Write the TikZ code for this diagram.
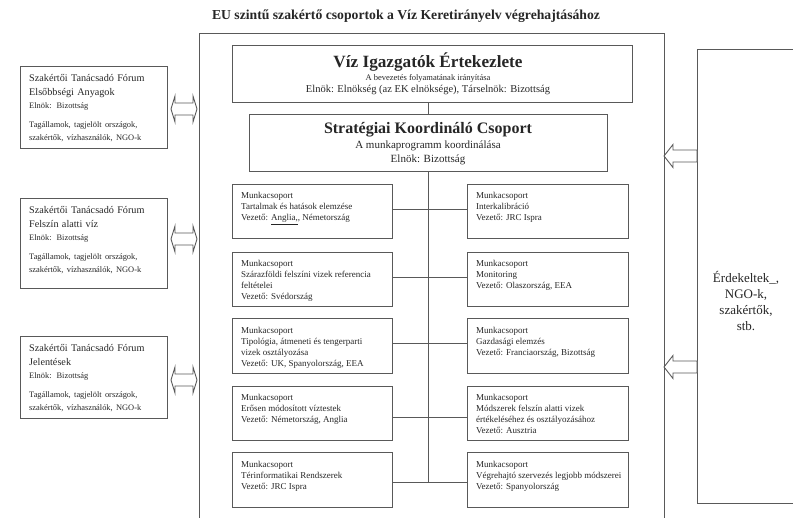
\documentclass[tikz,border=0pt]{standalone}
\usepackage{fontspec}
\setmainfont{Liberation Serif}
\usetikzlibrary{calc}
\newcommand{\fsz}[2]{\fontsize{#1}{#2}\selectfont}
\newcommand{\dblarrow}[2]{%
  \draw[hollow] (#1) -- ++(4,-13) -- ++(0,7) -- ($(#2)+(-4,-6)$) -- ++(0,-7) -- (#2)
    -- ++(-4,13) -- ++(0,-7) -- ($(#1)+(4,6)$) -- ++(0,7) -- cycle;}
\newcommand{\leftarrowshape}[2]{%
  \draw[hollow] (#1) -- ++(9,-11.5) -- ++(0,5.5) -- ($(#2)+(0,-6)$) -- ($(#2)+(0,6)$)
    -- ($(#1)+(9,6)$) -- ++(0,5.5) -- cycle;}
\begin{document}
\begin{tikzpicture}[x=1pt,y=-1pt,
  every node/.style={text=black!85, inner sep=0pt},
  box/.style={draw=black!65, line width=1pt, fill=none},
  wgbox/.style={box, minimum width=160pt, minimum height=54.5pt, anchor=north west},
  fbox/.style={box, minimum width=147pt, anchor=north west},
  wgtext/.style={anchor=north west, align=left, font=\fsz{9}{11}},
  ftext/.style={anchor=north west, text width=140pt, align=left},
  link/.style={draw=black!65, line width=1pt},
  hollow/.style={draw=black!65, line width=0.9pt, fill=white}
]
\useasboundingbox (0,0) rectangle (793,518);
\clip (0,0) rectangle (793,518);

% title
\node[font=\fsz{13.7}{15}\bfseries] (title) at (406,16) {EU szintű szakértő csoportok a Víz Keretirányelv végrehajtásához};

% outer frame
\node[box, minimum width=465pt, minimum height=540pt, anchor=north west] (frame) at (199,33) {};

% top box
\node[box, minimum width=400pt, minimum height=57pt, anchor=north west] (viz) at (232,45) {};
\node[font=\fsz{17.2}{19}\bfseries] (viztitle) at (428,62) {Víz Igazgatók Értekezlete};
\node[font=\fsz{8.5}{10}] (vizsub1) at (428,78) {A bevezetés folyamatának irányítása};
\node[font=\fsz{10.5}{11}] (vizsub2) at (428,89.5) {Elnök: Elnökség (az EK elnöksége), Társelnök: Bizottság};

% strategic box
\node[box, minimum width=358pt, minimum height=57pt, anchor=north west] (strat) at (249,114) {};
\node[font=\fsz{16}{17}\bfseries] (strattitle) at (428,130) {Stratégiai Koordináló Csoport};
\node[font=\fsz{11}{12}] (stratsub1) at (428,145.5) {A munkaprogramm koordinálása};
\node[font=\fsz{11}{12}] (stratsub2) at (428,160) {Elnök: Bizottság};

% working groups, left column
\node[wgbox] (l1) at (232,184) {};
\node[wgbox] (l2) at (232,252) {};
\node[wgbox] (l3) at (232,318.5) {};
\node[wgbox] (l4) at (232,386) {};
\node[wgbox] (l5) at (232,452.5) {};
% right column
\node[wgbox, minimum width=161pt] (r1) at (467,184) {};
\node[wgbox, minimum width=161pt] (r2) at (467,252) {};
\node[wgbox, minimum width=161pt] (r3) at (467,318.5) {};
\node[wgbox, minimum width=161pt] (r4) at (467,386) {};
\node[wgbox, minimum width=161pt] (r5) at (467,452.5) {};

\node[wgtext] (tl1) at ($(l1.north west)+(9,8.5)$) {Munkacsoport\\Tartalmak és hatások elemzése\\Vezető: \underline{Anglia,}, Németország};
\node[wgtext] (tl2) at ($(l2.north west)+(9,8.5)$) {Munkacsoport\\Szárazföldi felszíni vizek referencia\\feltételei\\Vezető: Svédország};
\node[wgtext] (tl3) at ($(l3.north west)+(9,8.5)$) {Munkacsoport\\Tipológia, átmeneti és tengerparti\\vizek osztályozása\\Vezető: UK, Spanyolország, EEA};
\node[wgtext] (tl4) at ($(l4.north west)+(9,8.5)$) {Munkacsoport\\Erősen módosított víztestek\\Vezető: Németország, Anglia};
\node[wgtext] (tl5) at ($(l5.north west)+(9,8.5)$) {Munkacsoport\\Térinformatikai Rendszerek\\Vezető: JRC Ispra};

\node[wgtext] (tr1) at ($(r1.north west)+(9,8.5)$) {Munkacsoport\\Interkalibráció\\Vezető: JRC Ispra};
\node[wgtext] (tr2) at ($(r2.north west)+(9,8.5)$) {Munkacsoport\\Monitoring\\Vezető: Olaszország, EEA};
\node[wgtext] (tr3) at ($(r3.north west)+(9,8.5)$) {Munkacsoport\\Gazdasági elemzés\\Vezető: Franciaország, Bizottság};
\node[wgtext] (tr4) at ($(r4.north west)+(9,8.5)$) {Munkacsoport\\Módszerek felszín alatti vizek\\értékeléséhez és osztályozásához\\Vezető: Ausztria};
\node[wgtext] (tr5) at ($(r5.north west)+(9,8.5)$) {Munkacsoport\\Végrehajtó szervezés legjobb módszerei\\Vezető: Spanyolország};

% connectors
\draw[link] (strat.north) -- (strat.north |- viz.south);
\coordinate (spineend) at (strat.south |- 0,483);
\draw[link] (strat.south) -- (spineend);
\draw[link] (l1.east |- 0,210) -- (r1.west |- 0,210);
\draw[link] (l2.east |- 0,278) -- (r2.west |- 0,278);
\draw[link] (l3.east |- 0,344) -- (r3.west |- 0,344);
\draw[link] (l4.east |- 0,418) -- (r4.west |- 0,418);
\draw[link] (l5.east |- 0,483) -- (r5.west |- 0,483);

% forum boxes
\node[fbox, minimum height=82pt] (f1) at (20,66) {};
\node[fbox, minimum height=90pt] (f2) at (20,198) {};
\node[fbox, minimum height=82pt] (f3) at (20,336) {};
\node[ftext] (tf1) at ($(f1.north west)+(9,8.5)$) {\fsz{10.2}{13.5}Szakértői Tanácsadó Fórum\\Elsőbbségi Anyagok\par\fsz{8.4}{13}Elnök: Bizottság\par\vspace{6pt}Tagállamok, tagjelölt országok,\\szakértők, vízhasználók, NGO-k\par};
\node[ftext] (tf2) at ($(f2.north west)+(9,8.5)$) {\fsz{10.2}{13.5}Szakértői Tanácsadó Fórum\\Felszín alatti víz\par\fsz{8.4}{13}Elnök: Bizottság\par\vspace{6pt}Tagállamok, tagjelölt országok,\\szakértők, vízhasználók, NGO-k\par};
\node[ftext] (tf3) at ($(f3.north west)+(9,8.5)$) {\fsz{10.2}{13.5}Szakértői Tanácsadó Fórum\\Jelentések\par\fsz{8.4}{13}Elnök: Bizottság\par\vspace{6pt}Tagállamok, tagjelölt országok,\\szakértők, vízhasználók, NGO-k\par};

% double arrows between forum boxes and frame
\coordinate (a1s) at ($(f1.east |- 0,109)+(3,0)$);
\coordinate (a1e) at ($(frame.west |- 0,109)+(-2,0)$);
\coordinate (a2s) at ($(f2.east |- 0,239)+(3,0)$);
\coordinate (a2e) at ($(frame.west |- 0,239)+(-2,0)$);
\coordinate (a3s) at ($(f3.east |- 0,380)+(3,0)$);
\coordinate (a3e) at ($(frame.west |- 0,380)+(-2,0)$);
\dblarrow{a1s}{a1e}
\dblarrow{a2s}{a2e}
\dblarrow{a3s}{a3e}

% stakeholders box
\node[box, minimum width=100pt, minimum height=454pt, anchor=north west] (stake) at (697,49) {};
\node[font=\fsz{13}{16}, align=center] (staketext) at (746,301) {Érdekeltek\_,\\NGO-k,\\szakértők,\\stb.};

% arrows from stakeholders into frame
\coordinate (b1t) at ($(frame.east |- 0,156)+(-1,0)$);
\coordinate (b1e) at (stake.west |- 0,156);
\coordinate (b2t) at ($(frame.east |- 0,367)+(-1,0)$);
\coordinate (b2e) at (stake.west |- 0,367);
\leftarrowshape{b1t}{b1e}
\leftarrowshape{b2t}{b2e}
\end{tikzpicture}
\end{document}
